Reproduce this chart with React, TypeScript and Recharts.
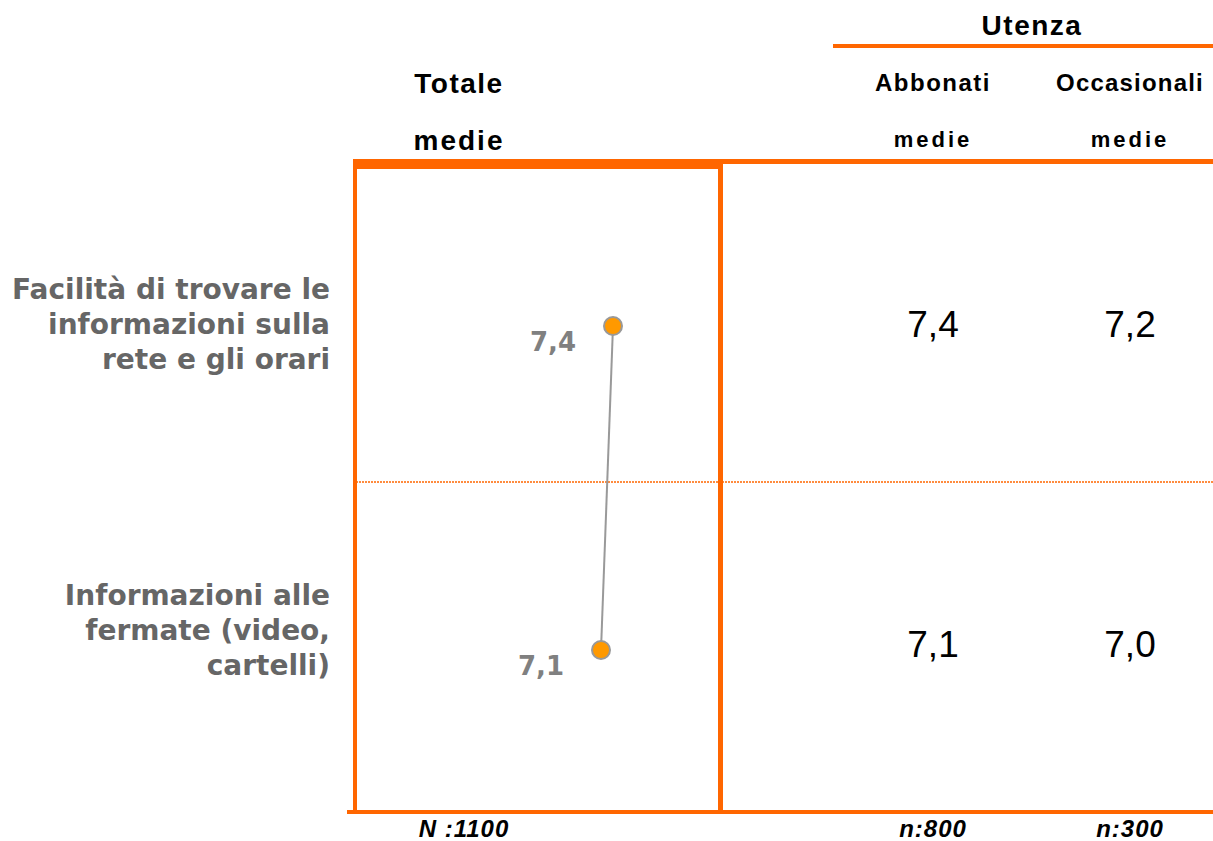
import React from "react";
import { LineChart, Line, XAxis, YAxis, LabelList } from "recharts";

// categories (row labels, split into lines)
const categories = ["Facilità di trovare le informazioni sulla rete e gli orari", "Informazioni alle fermate (video, cartelli)"];
const categoryLines = [
  ["Facilità di trovare le", "informazioni sulla", "rete e gli orari"],
  ["Informazioni alle", "fermate (video,", "cartelli)"],
];
// Totale medie (plotted)
const totale = [7.4, 7.1];
// Utenza columns
const abbonati = [7.4, 7.1];
const occasionali = [7.2, 7.0];
const sampleSizes = ["N :1100", "n:800", "n:300"];

const data = categories.map((name, i) => ({ name, value: totale[i], abb: abbonati[i], occ: occasionali[i] }));

const W = 1213;
const H = 841;
const ORANGE = "#ff6600";
const fmt = (v: number) => v.toFixed(1).replace(".", ",");

// chart plot area
const M = { top: 164, right: 496, bottom: 29, left: 0 };
const AXIS_W = 357;
const PLOT_L = AXIS_W;
const PLOT_R = W - M.right;
const PLOT_T = M.top;
const PLOT_B = H - M.bottom;
const ROW_PAD = (PLOT_B - PLOT_T) / 4;

const labelShift = [-27, -45];
const valueShift = [11, 7];
const COL_ABB = 933;
const COL_OCC = 1130;

const RowTick = (props: any) => {
  const { y, payload } = props;
  const i = categories.indexOf(payload.value);
  const lines = categoryLines[i];
  return (
    <g>
      <text x={330} y={y + labelShift[i]} textAnchor="end" fill="#666666"
        style={{ fontFamily: "DejaVu Sans", fontWeight: "bold", fontSize: 28 }}>
        {lines.map((l, k) => (
          <tspan key={k} x={330} dy={k === 0 ? 0 : 35}>{l}</tspan>
        ))}
      </text>
      <text x={COL_ABB} y={y + valueShift[i]} textAnchor="middle" fill="#000"
        style={{ fontFamily: "Liberation Sans", fontSize: 37 }}>{fmt(data[i].abb)}</text>
      <text x={COL_OCC} y={y + valueShift[i]} textAnchor="middle" fill="#000"
        style={{ fontFamily: "Liberation Sans", fontSize: 37 }}>{fmt(data[i].occ)}</text>
    </g>
  );
};

const PointLabel = (props: any) => {
  const { x, y, value } = props;
  return (
    <text x={x - 37} y={y + 25} textAnchor="end" fill="#808080"
      style={{ fontFamily: "DejaVu Sans", fontWeight: "bold", fontSize: 26 }}>
      {fmt(value)}
    </text>
  );
};

const hdr = { fontFamily: "Liberation Sans", fontWeight: "bold" as const, fill: "#000" };

export default function App() {
  return (
    <div style={{ position: "absolute", left: 0, top: 0, width: W, height: H, background: "#fff" }}>
      <svg width={W} height={H} style={{ position: "absolute", left: 0, top: 0 }}>
        {/* header */}
        <text x={1032} y={35} textAnchor="middle" style={{ ...hdr, fontSize: 28, letterSpacing: 1.5 }}>Utenza</text>
        <rect x={833} y={44} width={W - 833} height={4} fill={ORANGE} />
        <text x={459} y={93} textAnchor="middle" style={{ ...hdr, fontSize: 28, letterSpacing: 1.5 }}>Totale</text>
        <text x={459} y={150} textAnchor="middle" style={{ ...hdr, fontSize: 28, letterSpacing: 2 }}>medie</text>
        <text x={COL_ABB} y={91} textAnchor="middle" style={{ ...hdr, fontSize: 24, letterSpacing: 1.5 }}>Abbonati</text>
        <text x={COL_OCC} y={91} textAnchor="middle" style={{ ...hdr, fontSize: 24, letterSpacing: 1.2 }}>Occasionali</text>
        <text x={COL_ABB} y={147} textAnchor="middle" style={{ ...hdr, fontSize: 22, letterSpacing: 3 }}>medie</text>
        <text x={COL_OCC} y={147} textAnchor="middle" style={{ ...hdr, fontSize: 22, letterSpacing: 3 }}>medie</text>
        {/* frame */}
        <rect x={PLOT_L - 4} y={PLOT_T - 5} width={W - PLOT_L + 4} height={5} fill={ORANGE} />
        <rect x={PLOT_L - 4} y={PLOT_T - 5} width={PLOT_R - PLOT_L + 10} height={10} fill={ORANGE} />
        <rect x={PLOT_L - 4} y={PLOT_T - 5} width={4} height={PLOT_B - PLOT_T + 7} fill={ORANGE} />
        <rect x={PLOT_R + 1} y={PLOT_T - 5} width={5} height={PLOT_B - PLOT_T + 7} fill={ORANGE} />
        <rect x={PLOT_L - 10} y={PLOT_B - 2} width={W - PLOT_L + 10} height={4} fill={ORANGE} />
        <line x1={PLOT_L - 4} x2={W} y1={482} y2={482}
          stroke={ORANGE} strokeWidth={2} strokeDasharray="2 1" opacity={0.75} />
        {/* sample sizes */}
        {[464, COL_ABB, COL_OCC].map((cx, k) => (
          <text key={k} x={cx} y={837} textAnchor="middle"
            style={{ ...hdr, fontStyle: "italic", fontSize: 24, letterSpacing: 1 }}>{sampleSizes[k]}</text>
        ))}
      </svg>
      <div style={{ position: "absolute", left: 0, top: 0 }}>
        <LineChart width={W} height={H} data={data} layout="vertical" margin={M}>
          <XAxis type="number" domain={[1, 10]} hide />
          <YAxis type="category" dataKey="name" width={AXIS_W} axisLine={false} tickLine={false}
            interval={0} tick={<RowTick />} padding={{ top: ROW_PAD, bottom: ROW_PAD }} />
          <Line dataKey="value" stroke="#999999" strokeWidth={2} isAnimationActive={false}
            dot={{ r: 9, fill: "#ff9900", stroke: "#999999", strokeWidth: 2 }}>
            <LabelList dataKey="value" content={<PointLabel />} />
          </Line>
        </LineChart>
      </div>
    </div>
  );
}
